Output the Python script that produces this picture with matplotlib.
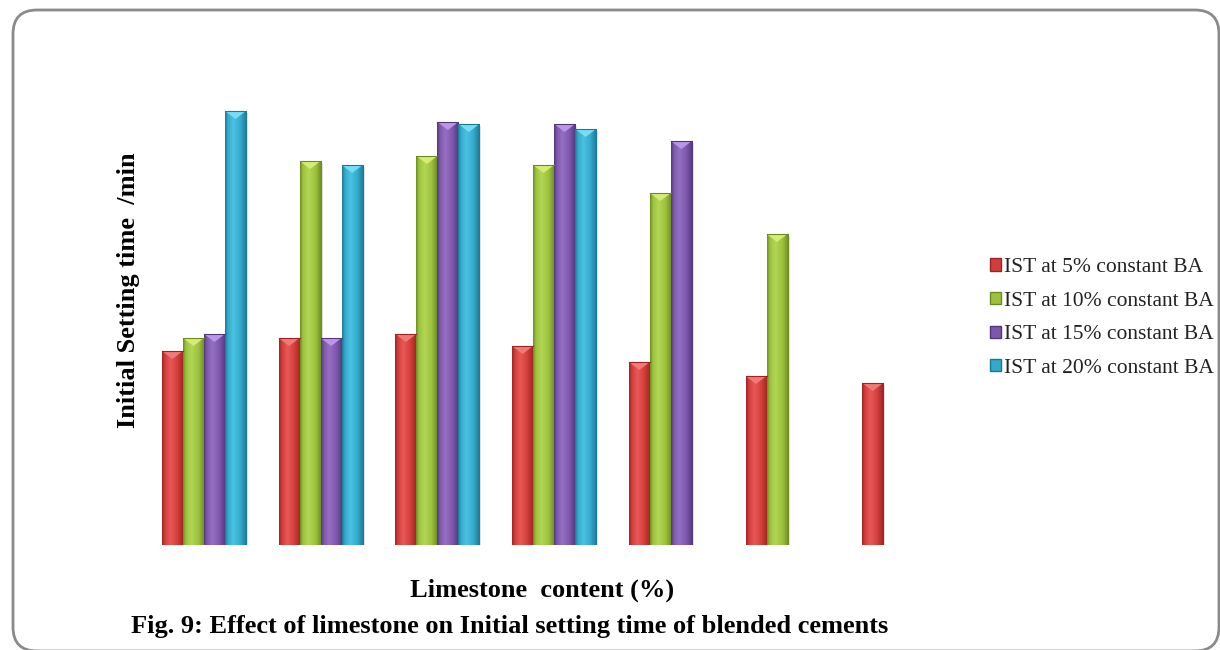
import numpy as np
import matplotlib
matplotlib.use("Agg")
import matplotlib.pyplot as plt
import matplotlib.transforms as mtransforms
from matplotlib.patches import FancyBboxPatch, Rectangle
from matplotlib.colors import LinearSegmentedColormap

# ---- data: initial setting time (min) for each limestone content step ----
limestone = ["0", "5", "10", "15", "20", "25", "30"]
series_labels = ["IST at 5% constant BA", "IST at 10% constant BA",
                 "IST at 15% constant BA", "IST at 20% constant BA"]
ist_5 = [97, 103.5, 105.5, 99.5, 91.5, 84.5, 81]
ist_10 = [103.5, 192, 194.5, 190, 176, 155.5, None]
ist_15 = [105.5, 103.5, 211.5, 210.5, 202, None, None]
ist_20 = [217, 190, 210.5, 208, None, None, None]
series = [ist_5, ist_10, ist_15, ist_20]

# base, dark edge, light highlight, bevel top
palette = [
    ("#d23c3a", "#9a2422", "#e85a57", "#f07a76"),
    ("#9cc23c", "#6a8a22", "#b2d655", "#d4ec70"),
    ("#7d57ab", "#523679", "#9570c2", "#b996e6"),
    ("#33a9cc", "#1c7893", "#4cc2e2", "#74def6"),
]

W, H = 1220, 650
fig = plt.figure(figsize=(W / 100, H / 100), dpi=100)
fig.patch.set_facecolor("white")

# rounded outer frame, drawn in pixel coordinates
bg = fig.add_axes([0, 0, 1, 1], zorder=0)
bg.set_xlim(0, W)
bg.set_ylim(H, 0)
bg.axis("off")
bg.add_patch(FancyBboxPatch((13, 10), 1206, 641,
                            boxstyle="round,pad=0,rounding_size=24",
                            fc="white", ec="#8a8a8a", lw=2))

# plot area
ax = fig.add_axes([145.6 / W, (H - 545) / H, 817 / W, 445 / H], zorder=1)
ax.patch.set_alpha(0)
ymax = 222.5
ax.set_xlim(-0.5, len(limestone) - 0.5)
ax.set_ylim(0, ymax)
for s in ax.spines.values():
    s.set_visible(False)
ax.set_xticks([])
ax.set_yticks([])

bw = 0.18
x = np.arange(len(limestone))
px_per_unit = 445 / ymax
bevel = 8 / px_per_unit
shadow_tr = ax.transData + mtransforms.ScaledTranslation(2 / 100, -1.5 / 100,
                                                         fig.dpi_scale_trans)

grad = np.linspace(0, 1, 64).reshape(1, -1)
handles = []
for k, (vals, cols) in enumerate(zip(series, palette)):
    base, dark, light, top = cols
    cmap = LinearSegmentedColormap.from_list(
        f"bar{k}", [(0, dark), (0.12, base), (0.38, light), (0.72, base), (1, dark)])
    idx = [i for i, v in enumerate(vals) if v is not None]
    xs = x[idx] + (k - 1.5) * bw
    hs = [vals[i] for i in idx]
    bars = ax.bar(xs, hs, width=bw, color=base, edgecolor="none", zorder=2)
    for b in bars:
        bx, by = b.get_x(), b.get_y()
        bwid, bh = b.get_width(), b.get_height()
        ax.add_patch(Rectangle((bx, by), bwid, bh, transform=shadow_tr,
                               fc="#808080", alpha=0.25, lw=0, zorder=1))
        ax.imshow(grad, cmap=cmap, extent=[bx, bx + bwid, by, by + bh],
                  aspect="auto", zorder=3, interpolation="bicubic")
        ax.fill([bx, bx + bwid, bx + bwid / 2], [bh, bh, bh - bevel],
                color=top, zorder=4, lw=0)
        ax.plot([bx, bx + bwid], [bh, bh], color=dark, lw=0.8, zorder=4)
    handles.append(Rectangle((0, 0), 1, 1, fc=base, ec=dark, lw=1))

ax.set_xlim(-0.5, len(limestone) - 0.5)
ax.set_ylim(0, ymax)

serif_b = dict(family="Liberation Serif", weight="bold")
fig.text(128 / W, 1 - 290 / H, "Initial Setting time  /min", rotation=90,
         ha="center", va="center", fontsize=19, **serif_b)
fig.text(542 / W, 1 - 590 / H, "Limestone  content (%)",
         ha="center", va="center", fontsize=19, **serif_b)
fig.text(510 / W, 1 - 627 / H,
         "Fig. 9: Effect of limestone on Initial setting time of blended cements",
         ha="center", va="center", fontsize=19, **serif_b)

leg = fig.legend(handles, series_labels, loc="center left",
                 bbox_to_anchor=(990 / W, 1 - 318 / H), frameon=False,
                 prop={"family": "Liberation Serif", "size": 15.5},
                 handlelength=0.5, handleheight=0.5, handletextpad=0.15,
                 labelspacing=0.68, borderpad=0, borderaxespad=0)
for t in leg.get_texts():
    t.set_color("#222222")

fig.savefig("out.png", dpi=100, facecolor="white")
